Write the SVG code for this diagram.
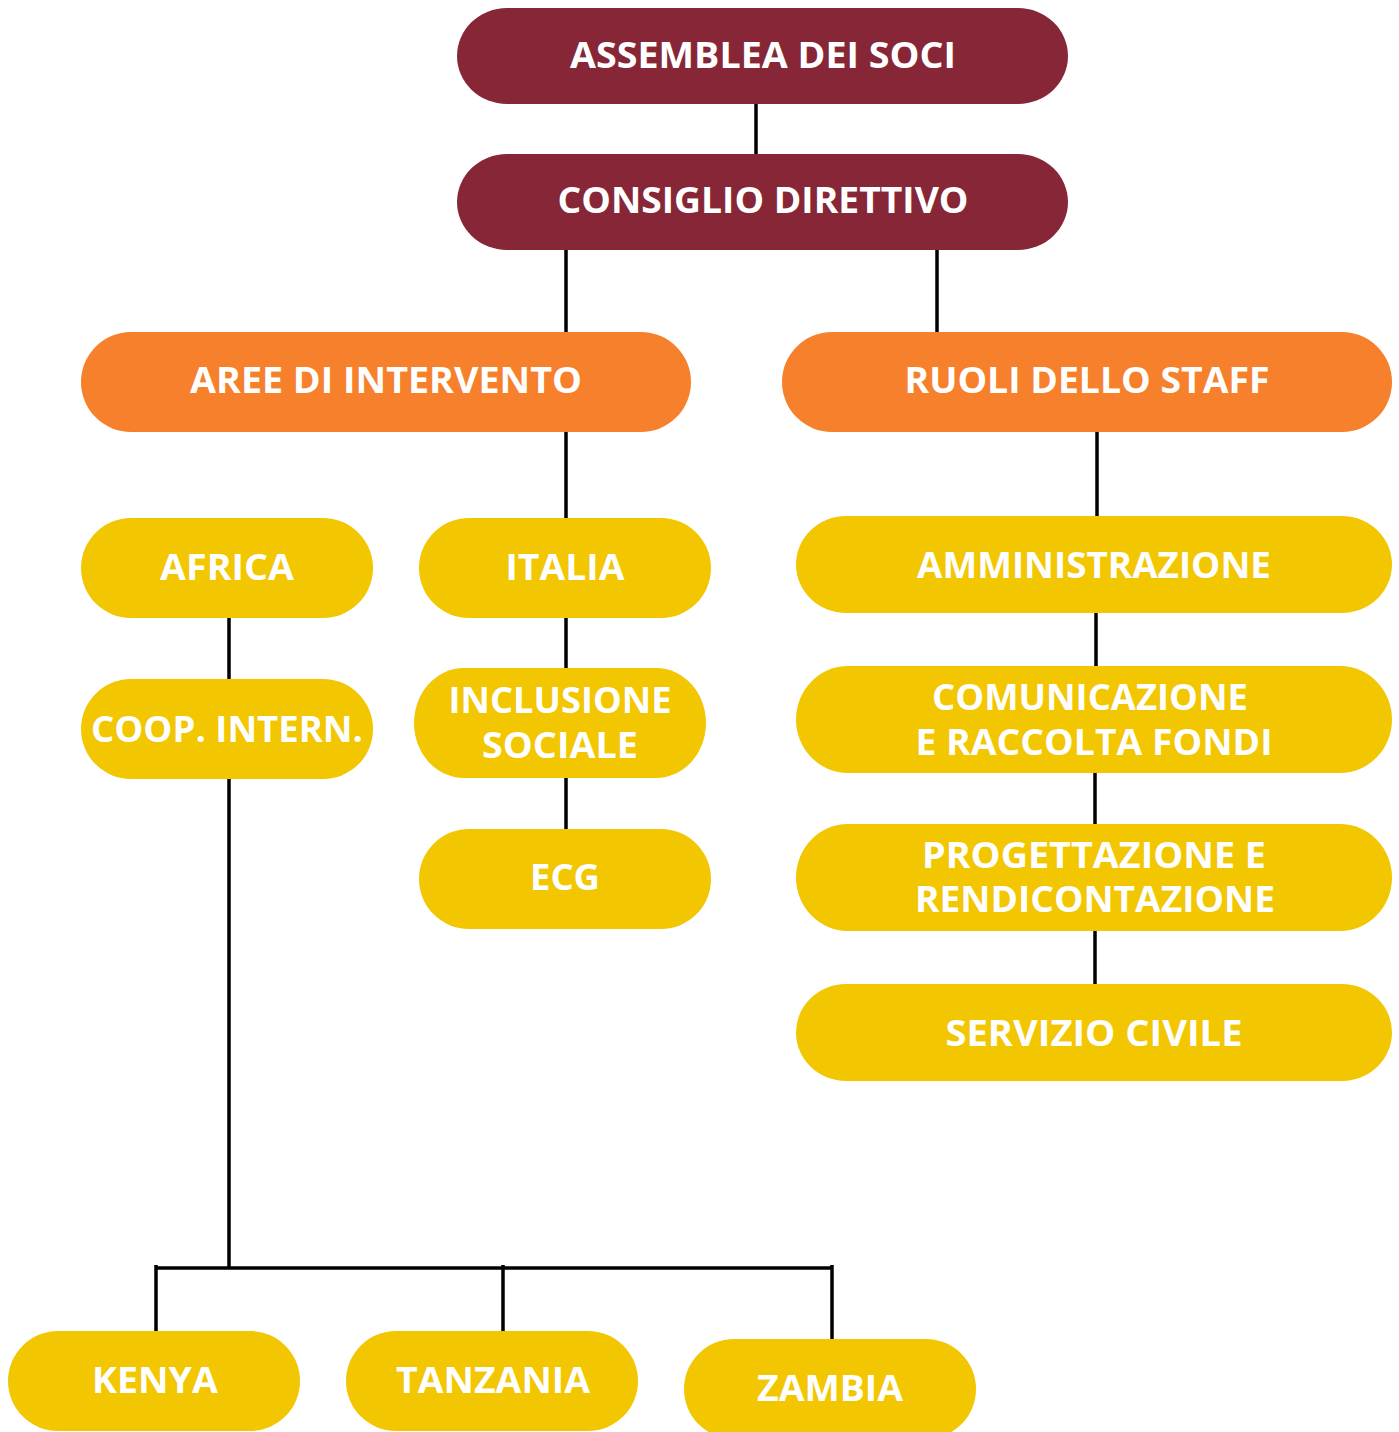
<svg xmlns="http://www.w3.org/2000/svg" width="1399" height="1432" viewBox="0 0 1399 1432">
<style>
.m{fill:#862637}.o{fill:#F6802B}.y{fill:#F2C600}
text{font-family:"Open Sans","Liberation Sans",sans-serif;font-weight:700;font-size:35px;fill:#fff;text-anchor:middle}
.c line{stroke:#000;stroke-width:3.5}
</style>
<rect width="1399" height="1432" fill="#fff"/>
<g class="c">
<line x1="756" y1="104" x2="756" y2="154"/>
<line x1="566" y1="250" x2="566" y2="332"/>
<line x1="937" y1="250" x2="937" y2="332"/>
<line x1="566" y1="432" x2="566" y2="518"/>
<line x1="1097" y1="432" x2="1097" y2="516"/>
<line x1="566" y1="618" x2="566" y2="668"/>
<line x1="566" y1="778" x2="566" y2="829"/>
<line x1="229" y1="618" x2="229" y2="679"/>
<line x1="229" y1="779" x2="229" y2="1268"/>
<line x1="156" y1="1268" x2="832" y2="1268"/>
<line x1="156" y1="1265" x2="156" y2="1331"/>
<line x1="503" y1="1265" x2="503" y2="1331"/>
<line x1="832" y1="1265" x2="832" y2="1339"/>
<line x1="1096" y1="613" x2="1096" y2="666"/>
<line x1="1095" y1="773" x2="1095" y2="824"/>
<line x1="1095" y1="931" x2="1095" y2="984"/>
</g>
<g id="assemblea"><rect class="m" x="457" y="8" width="611" height="96" rx="50" ry="48"/><text x="763" y="68" textLength="386" lengthAdjust="spacingAndGlyphs">ASSEMBLEA DEI SOCI</text></g>
<g id="consiglio"><rect class="m" x="457" y="154" width="611" height="96" rx="50" ry="48"/><text x="763" y="213" textLength="411" lengthAdjust="spacingAndGlyphs">CONSIGLIO DIRETTIVO</text></g>
<g id="aree"><rect class="o" x="81" y="332" width="610" height="100" rx="50" ry="50"/><text x="386" y="393" textLength="392" lengthAdjust="spacingAndGlyphs">AREE DI INTERVENTO</text></g>
<g id="ruoli"><rect class="o" x="782" y="332" width="610" height="100" rx="50" ry="50"/><text x="1087" y="393" textLength="365" lengthAdjust="spacingAndGlyphs">RUOLI DELLO STAFF</text></g>
<g id="africa"><rect class="y" x="81" y="518" width="292" height="100" rx="50" ry="50"/><text x="227" y="580" textLength="134" lengthAdjust="spacingAndGlyphs">AFRICA</text></g>
<g id="italia"><rect class="y" x="419" y="518" width="292" height="100" rx="50" ry="50"/><text x="565" y="580" textLength="119" lengthAdjust="spacingAndGlyphs">ITALIA</text></g>
<g id="coop"><rect class="y" x="81" y="679" width="292" height="100" rx="50" ry="50"/><text x="227" y="742" textLength="272" lengthAdjust="spacingAndGlyphs">COOP. INTERN.</text></g>
<g id="inclusione"><rect class="y" x="414" y="668" width="292" height="110" rx="50" ry="55"/><text x="560" y="713" textLength="223" lengthAdjust="spacingAndGlyphs">INCLUSIONE</text><text x="560" y="758" textLength="156" lengthAdjust="spacingAndGlyphs">SOCIALE</text></g>
<g id="ecg"><rect class="y" x="419" y="829" width="292" height="100" rx="50" ry="50"/><text x="565" y="890" textLength="70" lengthAdjust="spacingAndGlyphs">ECG</text></g>
<g id="amministrazione"><rect class="y" x="796" y="516" width="596" height="97" rx="50" ry="48.5"/><text x="1094" y="578" textLength="354" lengthAdjust="spacingAndGlyphs">AMMINISTRAZIONE</text></g>
<g id="comunicazione"><rect class="y" x="796" y="666" width="596" height="107" rx="52" ry="53.5"/><text x="1090" y="710" textLength="316" lengthAdjust="spacingAndGlyphs">COMUNICAZIONE</text><text x="1094" y="755" textLength="357" lengthAdjust="spacingAndGlyphs">E RACCOLTA FONDI</text></g>
<g id="progettazione"><rect class="y" x="796" y="824" width="596" height="107" rx="52" ry="53.5"/><text x="1094" y="868" textLength="344" lengthAdjust="spacingAndGlyphs">PROGETTAZIONE E</text><text x="1095" y="912" textLength="360" lengthAdjust="spacingAndGlyphs">RENDICONTAZIONE</text></g>
<g id="servizio"><rect class="y" x="796" y="984" width="596" height="97" rx="50" ry="48.5"/><text x="1094" y="1046" textLength="297" lengthAdjust="spacingAndGlyphs">SERVIZIO CIVILE</text></g>
<g id="kenya"><rect class="y" x="8" y="1331" width="292" height="100" rx="50" ry="50"/><text x="155" y="1393" textLength="126" lengthAdjust="spacingAndGlyphs">KENYA</text></g>
<g id="tanzania"><rect class="y" x="346" y="1331" width="292" height="100" rx="50" ry="50"/><text x="493" y="1393" textLength="194" lengthAdjust="spacingAndGlyphs">TANZANIA</text></g>
<g id="zambia"><rect class="y" x="684" y="1339" width="292" height="100" rx="50" ry="50"/><text x="830" y="1401" textLength="146" lengthAdjust="spacingAndGlyphs">ZAMBIA</text></g>
</svg>
